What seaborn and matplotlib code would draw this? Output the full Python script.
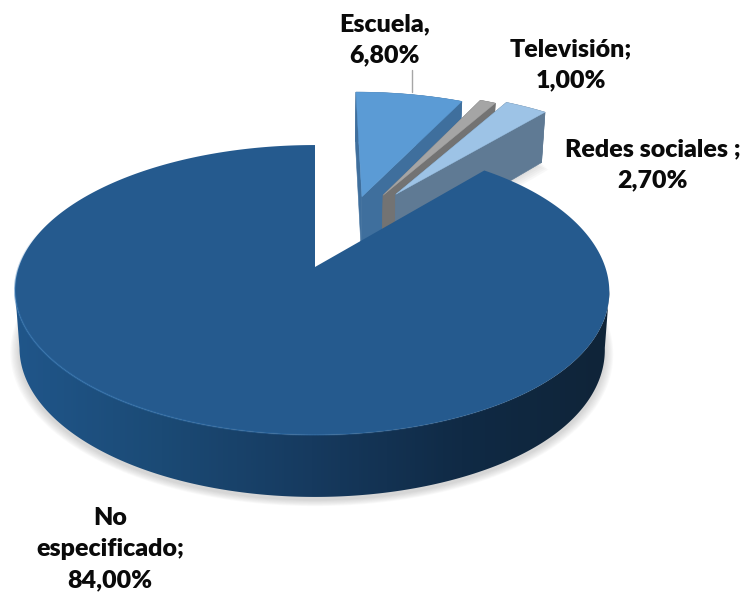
import numpy as np
import matplotlib
matplotlib.use("Agg")
import matplotlib.pyplot as plt
from matplotlib.collections import LineCollection
from matplotlib.patches import Polygon
import seaborn as sns

categories = ["Escuela", "Televisión", "Redes sociales", "No especificado"]
values = [6.8, 1.0, 2.7, 84.0]
label_texts = ["Escuela,\n6,80%", "Televisión;\n1,00%", "Redes sociales ;\n2,70%", "No\nespecificado;\n84,00%"]

top_colors = ["#5B9BD5", "#A5A5A5", "#9DC3E6", "#255A8E"]
side_colors = ["#3F6F9D", "#737373", "#5F7A94", "#163A5F"]
explode_u = [0.172, 0.250, 0.297, 0.0]
explode_v = [0.540, 0.552, 0.560, 0.0]
label_xy = [(385, 40), (571, 65), (653, 165), (110, 549)]

sns.set_theme(style="white")
plt.rcParams["font.family"] = ["Lato", "DejaVu Sans"]

fig = plt.figure(figsize=(7.41, 5.93), dpi=100)
ax = fig.add_axes([0, 0, 1, 1])
ax.axis("off")

CX, CY, A, B, K = 315.0, 267.0, 141.3, 296.2, 0.1586


def top(u, v):
    w = 1 + K * v
    return CX + B * u / w, CY - A * v / w


def bottom(u, v):
    x, y = top(u, v)
    return CX + (x - CX) * 0.985, y + 57 - 5 * v


fracs = np.array(values) / np.sum(values)
edges = np.r_[0, np.cumsum(fracs)] * 2 * np.pi


def arc(i, n):
    t = np.linspace(edges[i], edges[i + 1], n)
    return explode_u[i] + np.sin(t), explode_v[i] + np.cos(t)


def pts(fn, u, v):
    return np.array([fn(a, b) for a, b in zip(u, v)])


def squeeze(p, u):
    # the main disc's right side sits slightly inside the left side
    p = p.copy()
    p[:, 0] -= 24 * np.clip(u - 0.5, 0, None) ** 2
    return p


# soft ground shadow, only around the front of the disc
u_main, v_main = arc(3, 720)
circ = np.radians(np.linspace(85, 275, 300))
for k in range(8):
    s = 1.03 - 0.004 * k
    p = pts(bottom, s * np.sin(circ), s * np.cos(circ))
    p = squeeze(p, s * np.sin(circ))
    p[:, 1] += 3
    ax.fill(p[:, 0], p[:, 1], color="#808080", alpha=0.045, lw=0, zorder=1)

# exploded slices
for i in range(3):
    n = max(int(np.degrees(edges[i + 1] - edges[i])) * 2, 4)
    u, v = arc(i, n)
    au, av = explode_u[i], explode_v[i]
    if i == 2:
        for k in range(6):
            sh = pts(bottom, u, v)
            sh = np.vstack([sh, bottom(au, av)])
            ax.fill(sh[:, 0] + k * 1.4, sh[:, 1] + k * 1.4, color="#808080", alpha=0.05, lw=0, zorder=1.5)
    t_arc, b_arc = pts(top, u, v), pts(bottom, u, v)
    rim = np.vstack([t_arc, b_arc[::-1]])
    ax.fill(rim[:, 0], rim[:, 1], color=side_colors[i], lw=0.4, zorder=2 + i)
    t_a, b_a = top(au, av), bottom(au, av)
    for e in (0, -1):
        face = np.array([t_a, t_arc[e], b_arc[e], b_a])
        ax.fill(face[:, 0], face[:, 1], color=side_colors[i], lw=0.4, zorder=2 + i)
    face_top = np.vstack([t_a, t_arc])
    ax.fill(face_top[:, 0], face_top[:, 1], color=top_colors[i], lw=0.3, zorder=2.5 + i)

# main slice: side wall with a left-to-right gradient clipped to the wall outline
cmap = sns.blend_palette(["#20568A", "#1B4A75", "#163A5F", "#102A45", "#0F2438"], as_cmap=True)
tb = squeeze(pts(top, u_main, v_main), u_main)
bb = squeeze(pts(bottom, u_main, v_main), u_main)
deg_main = np.degrees(np.arctan2(u_main, v_main)) % 360
front = (deg_main > 99) & (deg_main < 261)
wall = Polygon(np.vstack([tb[front], bb[front][::-1]]), closed=True, transform=ax.transData, fc="none", ec="none")
ax.add_patch(wall)
grad = ax.imshow(np.linspace(0, 1, 600)[None, :], cmap=cmap, extent=(12, 612, 500, 100),
                 aspect="auto", zorder=6, interpolation="bilinear")
grad.set_clip_path(wall)

face_main = np.vstack([top(0, 0), tb])
ax.fill(face_main[:, 0], face_main[:, 1], color=top_colors[3], lw=0, zorder=7)

# bevel highlight on the front rim
segs, cols = [], []
for j in range(len(u_main) - 1):
    deg = deg_main[j]
    if 130 < deg < 285:
        strength = np.clip((deg - 130) / 90, 0, 1) * np.clip((285 - deg) / 25, 0, 1)
        segs.append([tb[j], tb[j + 1]])
        cols.append((0.20, 0.46, 0.70, 0.55 * strength))
ax.add_collection(LineCollection(segs, colors=cols, linewidths=1.4, zorder=8))

# labels
ax.plot([412, 412], [70, 92], color="#A6A6A6", lw=1.0, zorder=1.5)
for txt, (x, y) in zip(label_texts, label_xy):
    ax.text(x, y, txt, ha="center", va="center", fontsize=18, fontweight="heavy",
            color="#0A0A0A", linespacing=1.5, zorder=10)

ax.set_xlim(0, 741)
ax.set_ylim(593, 0)
fig.savefig("out.png", dpi=100, facecolor="white")
